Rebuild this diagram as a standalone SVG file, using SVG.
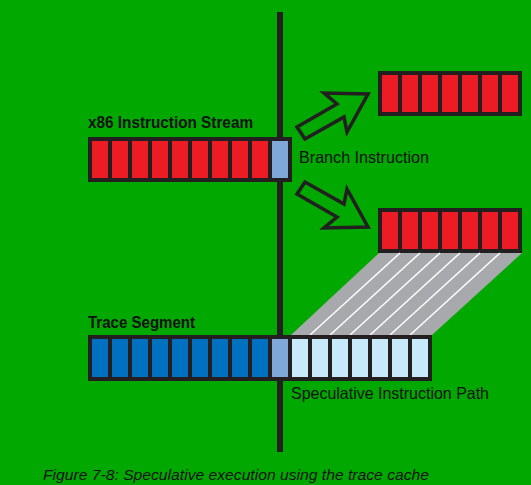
<svg xmlns="http://www.w3.org/2000/svg" width="531" height="485" viewBox="0 0 531 485">
<style>
.frame{fill:#231f20}
.red{fill:#ed1c24}
.dblue{fill:#0070c0}
.mblue{fill:#7fa8d9}
.lblue{fill:#c8e9f9}
.arrow{fill:none;stroke:#231f20;stroke-width:3.5;stroke-linejoin:miter}
.lbl{font-family:"Liberation Sans",Arial,sans-serif;fill:#111}
.bold{font-weight:bold}
.cap{font-style:italic}
</style>
<rect width="531" height="485" fill="#00a800"/>
<g id="spine"><rect x="277" y="12" width="6" height="440" class="frame"/></g>
<g id="x86-stream">
<rect x="88" y="137" width="204" height="45" class="frame"/>
<g class="red">
<rect x="92" y="141" width="16" height="37"/><rect x="112" y="141" width="16" height="37"/><rect x="132" y="141" width="16" height="37"/><rect x="152" y="141" width="16" height="37"/><rect x="172" y="141" width="16" height="37"/><rect x="192" y="141" width="16" height="37"/><rect x="212" y="141" width="16" height="37"/><rect x="232" y="141" width="16" height="37"/><rect x="252" y="141" width="16" height="37"/>
</g>
<rect x="272" y="141" width="16" height="37" class="mblue"/>
<text x="88" y="128" class="lbl bold" font-size="16.5" textLength="165" lengthAdjust="spacingAndGlyphs">x86 Instruction Stream</text>
</g>
<g id="branch-label"><text x="299" y="163" class="lbl" font-size="16.5" textLength="130" lengthAdjust="spacingAndGlyphs">Branch Instruction</text></g>
<g id="target-top">
<rect x="378" y="71" width="144" height="45" class="frame"/>
<g class="red">
<rect x="382" y="75" width="16" height="37"/><rect x="402" y="75" width="16" height="37"/><rect x="422" y="75" width="16" height="37"/><rect x="442" y="75" width="16" height="37"/><rect x="462" y="75" width="16" height="37"/><rect x="482" y="75" width="16" height="37"/><rect x="502" y="75" width="16" height="37"/>
</g>
</g>
<g id="target-bottom">
<rect x="378" y="208" width="144" height="45" class="frame"/>
<g class="red">
<rect x="382" y="212" width="16" height="37"/><rect x="402" y="212" width="16" height="37"/><rect x="422" y="212" width="16" height="37"/><rect x="442" y="212" width="16" height="37"/><rect x="462" y="212" width="16" height="37"/><rect x="482" y="212" width="16" height="37"/><rect x="502" y="212" width="16" height="37"/>
</g>
</g>
<g id="projection">
<polygon points="379,253 522,253 432,335 291,335" fill="#a7a9ac"/>
<g stroke="#ffffff" stroke-width="1.5">
<line x1="400" y1="253" x2="310" y2="335"/><line x1="420" y1="253" x2="330" y2="335"/><line x1="440" y1="253" x2="350" y2="335"/><line x1="460" y1="253" x2="370" y2="335"/><line x1="480" y1="253" x2="390" y2="335"/><line x1="500" y1="253" x2="410" y2="335"/>
</g>
</g>
<g id="trace-segment">
<rect x="88" y="335" width="344" height="46" class="frame"/>
<g class="dblue">
<rect x="92" y="339" width="16" height="38"/><rect x="112" y="339" width="16" height="38"/><rect x="132" y="339" width="16" height="38"/><rect x="152" y="339" width="16" height="38"/><rect x="172" y="339" width="16" height="38"/><rect x="192" y="339" width="16" height="38"/><rect x="212" y="339" width="16" height="38"/><rect x="232" y="339" width="16" height="38"/><rect x="252" y="339" width="16" height="38"/>
</g>
<rect x="272" y="339" width="16" height="38" class="mblue"/>
<g class="lblue">
<rect x="292" y="339" width="16" height="38"/><rect x="312" y="339" width="16" height="38"/><rect x="332" y="339" width="16" height="38"/><rect x="352" y="339" width="16" height="38"/><rect x="372" y="339" width="16" height="38"/><rect x="392" y="339" width="16" height="38"/><rect x="412" y="339" width="16" height="38"/>
</g>
<text x="88" y="328" class="lbl bold" font-size="16.5" textLength="107" lengthAdjust="spacingAndGlyphs">Trace Segment</text>
</g>
<g id="spec-label"><text x="291" y="399" class="lbl" font-size="16.5" textLength="198" lengthAdjust="spacingAndGlyphs">Speculative Instruction Path</text></g>
<g id="connectors">
<path class="arrow" d="M297,127 L337,104 L324,93 L368,94 L347,132 L344,117 L305,139 Z"/>
<path class="arrow" d="M297,194 L337,217 L324,228 L368,227 L347,189 L344,204 L305,182 Z"/>
</g>
<g id="caption"><text x="43" y="480" class="lbl cap" font-size="15" textLength="386" lengthAdjust="spacingAndGlyphs">Figure 7-8: Speculative execution using the trace cache</text></g>
</svg>
